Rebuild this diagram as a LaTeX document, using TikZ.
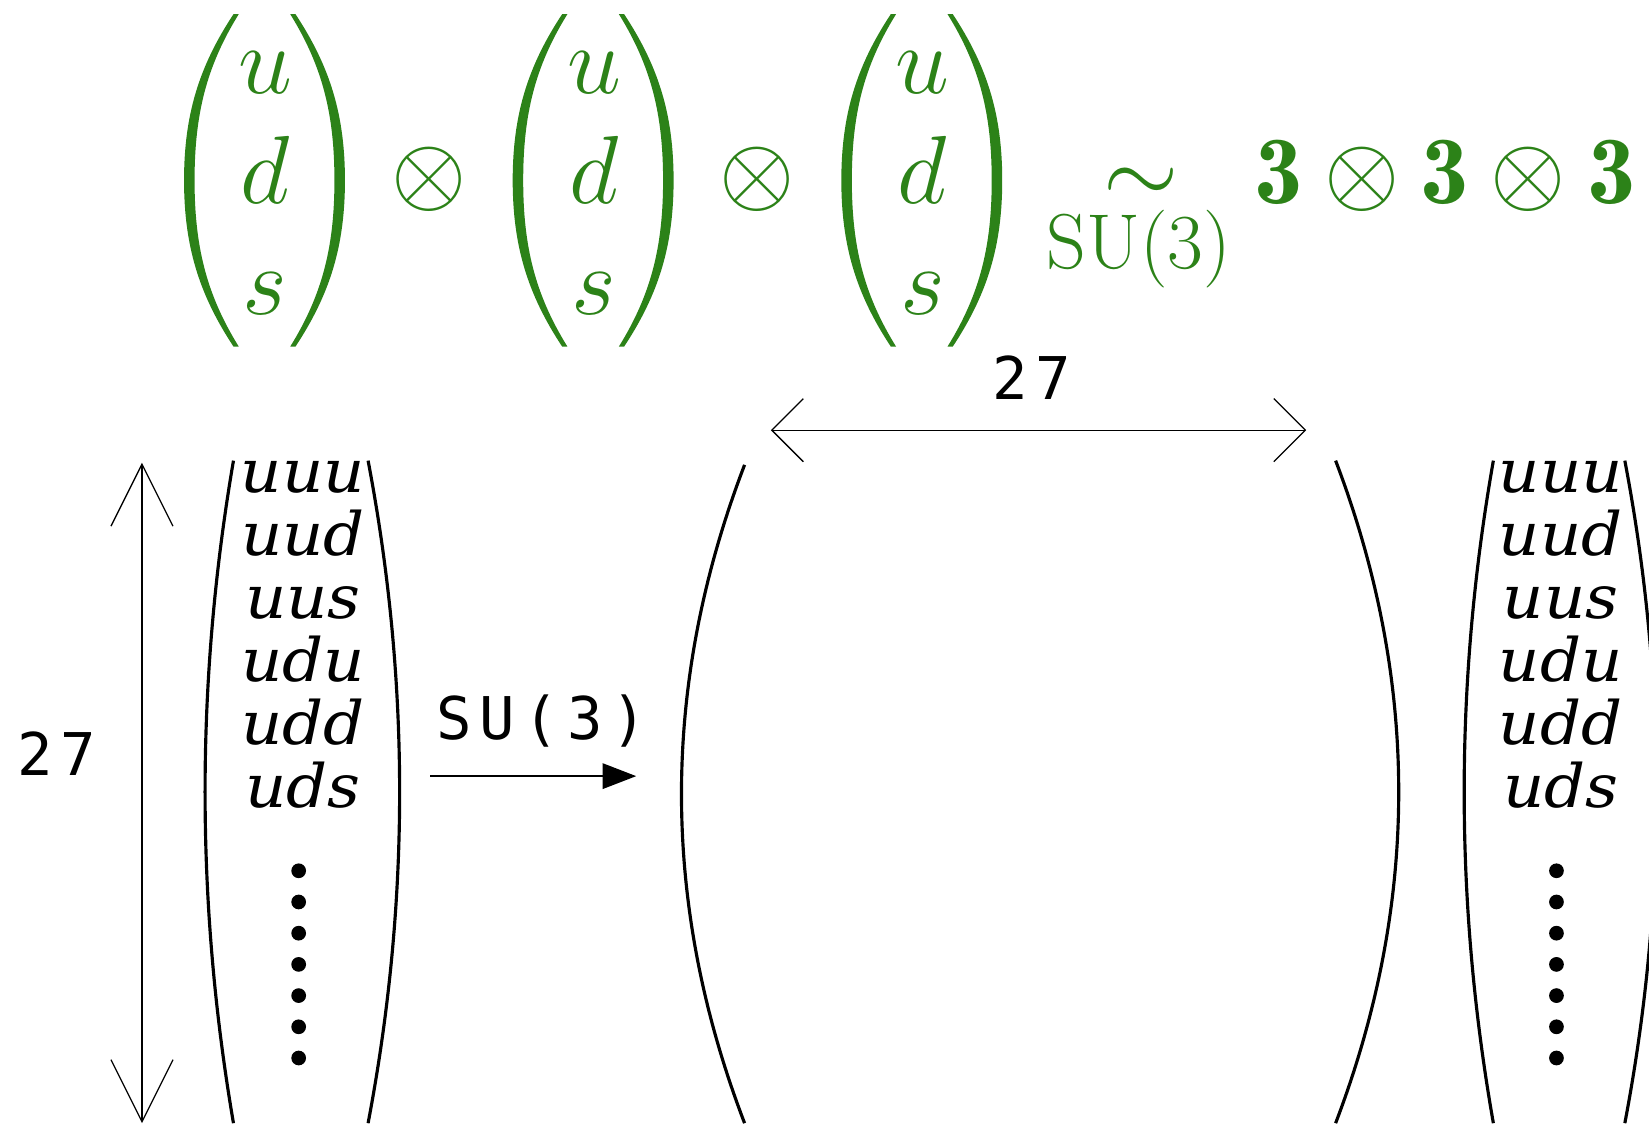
\RequirePackage{fix-cm}
\documentclass[tikz,border=0pt]{standalone}
\usepackage{fontspec}
\newfontfamily\dvmono{DejaVu Sans Mono}
\newfontfamily\colfont{DejaVu Serif}[FakeStretch=1.07]
\usetikzlibrary{arrows.meta}
\definecolor{gcol}{RGB}{44,130,24}
\newcommand\lsp{\kern8pt}
\tikzset{
  gtext/.style={text=gcol, inner sep=0pt, anchor=base, font=\fontsize{92}{110}\selectfont},
  gsub/.style={text=gcol, inner sep=0pt, anchor=base, font=\fontsize{74}{80}\selectfont},
  btext/.style={inner sep=0pt, anchor=base, font=\dvmono\fontsize{56}{60}\selectfont},
  coltext/.style={inner sep=0pt, anchor=base, font=\colfont\itshape\fontsize{57}{60}\selectfont},
  vdim/.style={line width=1.2pt, {Straight Barb[length=59pt,width=59pt]}-{Straight Barb[length=59pt,width=59pt]}},
  hdim/.style={line width=1.2pt, {Straight Barb[length=30pt,width=60pt]}-{Straight Barb[length=30pt,width=60pt]}},
  maparr/.style={line width=2.5pt, -{Triangle[length=32pt,width=24pt]}},
  bparen/.style={line width=3pt},
  gparen/.pic={\fill[gcol] (47,-158) .. controls (14,-108) and (0,-62) .. (0,0)
      .. controls (0,62) and (14,108) .. (47,158) -- (52,158)
      .. controls (21,108) and (10,62) .. (10,0)
      .. controls (10,-62) and (21,-108) .. (52,-158) -- cycle;}
}
\begin{document}
\begin{tikzpicture}[x=1pt,y=-1pt]
\useasboundingbox (0,0) rectangle (1568,1071);
\clip (0,0) rectangle (1568,1071);
% ---- green top row ----
\foreach \i/\cx in {1/175,2/487.5,3/800}{
  \pic at (\cx,171.5) {gparen};
  \pic[xscale=-1] at (\cx+153,171.5) {gparen};
}
\foreach \i/\cx in {1/252,2/565,3/877}{
  \node[gtext] (u\i) at (\cx,88.5) {$u$};
  \node[gtext] (d\i) at (\cx,193.5) {$d$};
  \node[gtext] (s\i) at (\cx,299.5) {$s$};
}
\node[gtext] (ot1) at (408,193.5) {$\otimes$};
\node[gtext] (ot2) at (720,193.5) {$\otimes$};
\node[gtext] (sim) at (1085,193.5) {$\sim$};
\node[gsub] (su3g) at (1083,255) {$\mathrm{SU}(3)$};
\node[gtext] (rhs) at (1374,193.5) {$\mathbf{3}\otimes\mathbf{3}\otimes\mathbf{3}$};
% ---- left dimension arrow ----
\coordinate (vt) at (135,440);
\coordinate (vb) at (135,1068);
\draw[vdim] (vt) -- (vb);
\node[btext] (n27a) at (54,737) {2\lsp 7};
% ---- left column ----
\draw[bparen] (222,438) .. controls (186,648) and (186,858) .. (222,1068);
\draw[bparen] (350,438) .. controls (390,648) and (390,858) .. (350,1068);
\foreach \w [count=\k from 0] in {uuu,uud,uus,udu,udd,uds}{
  \node[coltext] (la\k) at (288,468+60*\k) {\w};
  \node[coltext] (ra\k) at (1484,468+60*\k) {\w};
}
\foreach \k in {0,...,6}{
  \fill (284,828+29.67*\k) circle (7);
  \fill (1480,828+29.67*\k) circle (7);
}
% ---- map arrow ----
\node[btext] (su3b) at (515,703) {S\lsp U\lsp(\lsp 3\lsp)};
\coordinate (ma) at (409,738);
\coordinate (mb) at (605,738);
\draw[maparr] (ma) -- (mb);
% ---- middle matrix ----
\draw[bparen] (708,442) .. controls (628,651) and (628,859) .. (708,1068);
\draw[bparen] (1270,438) .. controls (1350,648) and (1350,858) .. (1270,1068);
\coordinate (hl) at (733,409);
\coordinate (hr) at (1242,409);
\draw[hdim] (hl) -- (hr);
\node[btext] (n27b) at (981,380) {2\lsp 7};
% ---- right column ----
\draw[bparen] (1420,438) .. controls (1383,648) and (1383,858) .. (1420,1068);
\draw[bparen] (1545,438) .. controls (1585,648) and (1585,858) .. (1545,1068);
\end{tikzpicture}
\end{document}
